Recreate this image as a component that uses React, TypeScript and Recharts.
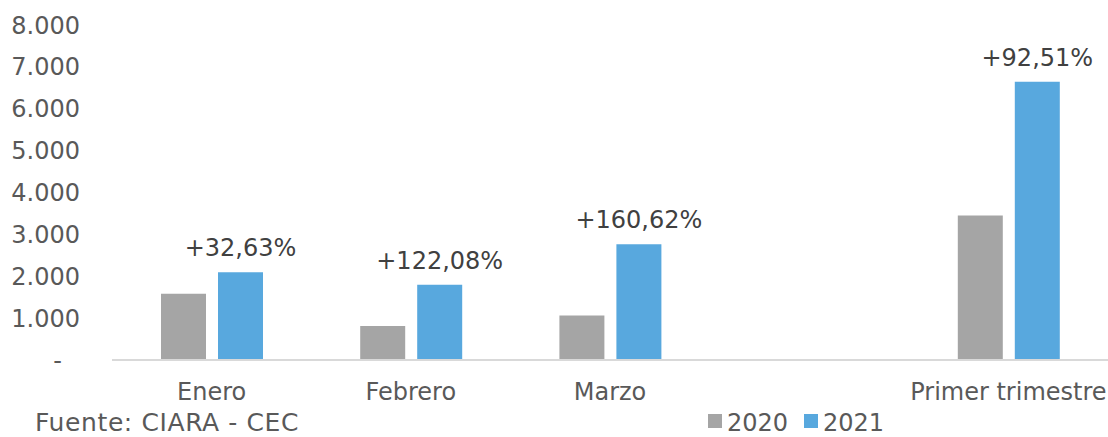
import React from "react";
import { BarChart, Bar, XAxis, YAxis, Legend, LabelList } from "recharts";

// categories (the 4th slot is an empty spacer in the original)
const months = ["Enero", "Febrero", "Marzo", "", "Primer trimestre"];
const values2020 = [1580, 810, 1060, null, 3450];
const values2021 = [2096, 1799, 2763, null, 6642];
const growth = ["+32,63%", "+122,08%", "+160,62%", "", "+92,51%"];
const yTicks = [0, 1000, 2000, 3000, 4000, 5000, 6000, 7000, 8000];

const data = months.map((m, i) => ({
	month: m,
	y2020: values2020[i],
	y2021: values2021[i],
	pct: growth[i],
}));

const FONT = "'DejaVu Sans', Verdana, sans-serif";
const TXT = "#595959";
const GRAY = "#a5a5a5";
const BLUE = "#58a8de";

const fmt = (v: number) => v.toLocaleString("de-DE");

const YTick = (props: any) => {
	const { x, y, payload } = props;
	if (payload.value === 0) {
		return (
			<text x={x - 18} y={y} dy="0.355em" textAnchor="end" fill={TXT} fontSize={24} fontFamily={FONT}>
				-
			</text>
		);
	}
	return (
		<text x={x} y={y} dy="0.355em" textAnchor="end" fill={TXT} fontSize={24} fontFamily={FONT}>
			{fmt(payload.value)}
		</text>
	);
};

const Footer = () => (
	<svg width={1108} height={30} style={{ display: "block" }}>
		<text x={35} y={24} fill={TXT} fontSize={25} letterSpacing={0.6} fontFamily={FONT}>Fuente: CIARA - CEC</text>
		<rect x={708} y={7} width={14} height={14} fill={GRAY} />
		<text x={727} y={24} fill={TXT} fontSize={24} fontFamily={FONT}>2020</text>
		<rect x={804} y={7} width={14} height={14} fill={BLUE} />
		<text x={823} y={24} fill={TXT} fontSize={24} fontFamily={FONT}>2021</text>
	</svg>
);

export default function App() {
	return (
		<div style={{ position: "absolute", left: 0, top: 0, background: "#fff" }}>
			<BarChart width={1108} height={437} data={data} margin={{ top: 25, right: 0, left: 0, bottom: 0 }} barGap={12} barSize={45}>
				<XAxis
					dataKey="month"
					height={77}
					axisLine={{ stroke: "#d9d9d9", strokeWidth: 2 }}
					tickLine={false}
					tickSize={0}
					tickMargin={23}
					interval={0}
					tick={{ fill: TXT, fontSize: 24, fontFamily: FONT }}
				/>
				<YAxis
					width={112}
					domain={[0, 8000]}
					ticks={yTicks}
					axisLine={false}
					tickLine={false}
					tickSize={0}
					tickMargin={32}
					tick={<YTick />}
				/>
				<Legend layout="horizontal" verticalAlign="middle" wrapperStyle={{ position: "absolute", left: 0, top: 407, width: 1108, height: 30 }} content={() => <Footer />} />
				<Bar dataKey="y2020" fill={GRAY} isAnimationActive={false} />
				<Bar dataKey="y2021" fill={BLUE} isAnimationActive={false}>
					<LabelList dataKey="pct" position="top" offset={16} fill="#404040" fontSize={24} fontFamily={FONT} />
				</Bar>
			</BarChart>
		</div>
	);
}
